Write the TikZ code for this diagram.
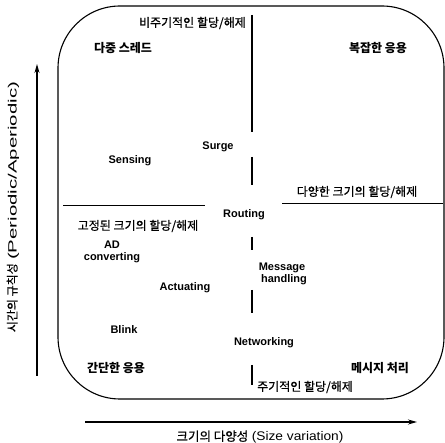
\documentclass[tikz,border=0pt]{standalone}
\usepackage{fontspec}
\setmainfont{Liberation Sans}
\newfontfamily\kr[FakeBold=0.6]{Noto Sans CJK KR}
\newfontfamily\krb{Noto Sans CJK KR}
\usetikzlibrary{arrows.meta}
\begin{document}
\begin{tikzpicture}[x=1pt,y=-1pt,
  en/.style={font=\fontsize{11}{12.5}\selectfont\bfseries, inner sep=0pt},
  krreg/.style={font=\kr\fontsize{12}{14}\selectfont, inner sep=0pt},
  krbold/.style={font=\krb\bfseries\fontsize{12}{14}\selectfont, inner sep=0pt},
  divider/.style={line width=1.4pt},
  sep/.style={line width=0.8pt},
  axis/.style={line width=1.3pt, -{Stealth[length=9pt,width=5pt]}}]
\useasboundingbox (0,0) rectangle (445,443);
% frame
\draw[line width=1.1pt, rounded corners=62pt] (58,6) rectangle (444,399);
% dividers
\coordinate (v1a) at (252,15);  \coordinate (v1b) at (252,132);
\coordinate (v2a) at (252,157); \coordinate (v2b) at (252,185);
\coordinate (v3a) at (252,237); \coordinate (v3b) at (252,250);
\coordinate (v4a) at (252,290); \coordinate (v4b) at (252,313);
\coordinate (v5a) at (252,365); \coordinate (v5b) at (252,385);
\draw[divider] (v1a) -- (v1b);
\draw[divider] (v2a) -- (v2b);
\draw[divider] (v3a) -- (v3b);
\draw[divider] (v4a) -- (v4b);
\draw[divider] (v5a) -- (v5b);
\coordinate (h1a) at (63,205);  \coordinate (h1b) at (205,205);
\coordinate (h2a) at (282,203); \coordinate (h2b) at (443,203);
\draw[sep] (h1a) -- (h1b);
\draw[sep] (h2a) -- (h2b);
% axes
\coordinate (ya) at (37,376); \coordinate (yb) at (37,64);
\coordinate (xa) at (85,422); \coordinate (xb) at (417,422);
\draw[axis] (ya) -- (yb);
\draw[axis] (xa) -- (xb);
% labels
\node[krreg, anchor=east] (aper) at (246,23) {비주기적인 할당/해제};
\node[krbold] (multi) at (123,48) {다중 스레드};
\node[krbold] (complex) at (378,48) {복잡한 응용};
\node[en] (surge) at (218,147) {Surge};
\node[en] (sensing) at (130,161) {Sensing};
\node[krreg] (varsize) at (357,192) {다양한 크기의 할당/해제};
\node[en] (routing) at (244,215) {Routing};
\node[krreg] (fixsize) at (138,226) {고정된 크기의 할당/해제};
\node[en, align=center] (ad) at (112,252) {AD\\converting};
\node[en, align=center] (msg) at (282,274) {Message\\\hspace*{4pt}handling};
\node[en] (act) at (185,288) {Actuating};
\node[en] (blink) at (124,330) {Blink};
\node[en] (net) at (264,343) {Networking};
\node[krbold] (simple) at (116,368) {간단한 응용};
\node[krbold] (msgproc) at (380,368) {메시지 처리};
\node[krreg, anchor=west] (per) at (257,387) {주기적인 할당/해제};
\node[inner sep=0pt, font=\fontsize{12.5}{14}\selectfont] (xlab) at (260,437) {{\kr 크기의 다양성} \scalebox{1.1}[1]{(Size variation)}};
\node[inner sep=0pt, rotate=90, font=\fontsize{12}{14}\selectfont] (ylab) at (13,207) {{\kr 시간의 규칙성} \scalebox{1.7}[1]{(Periodic/Aperiodic)}};
\end{tikzpicture}
\end{document}
